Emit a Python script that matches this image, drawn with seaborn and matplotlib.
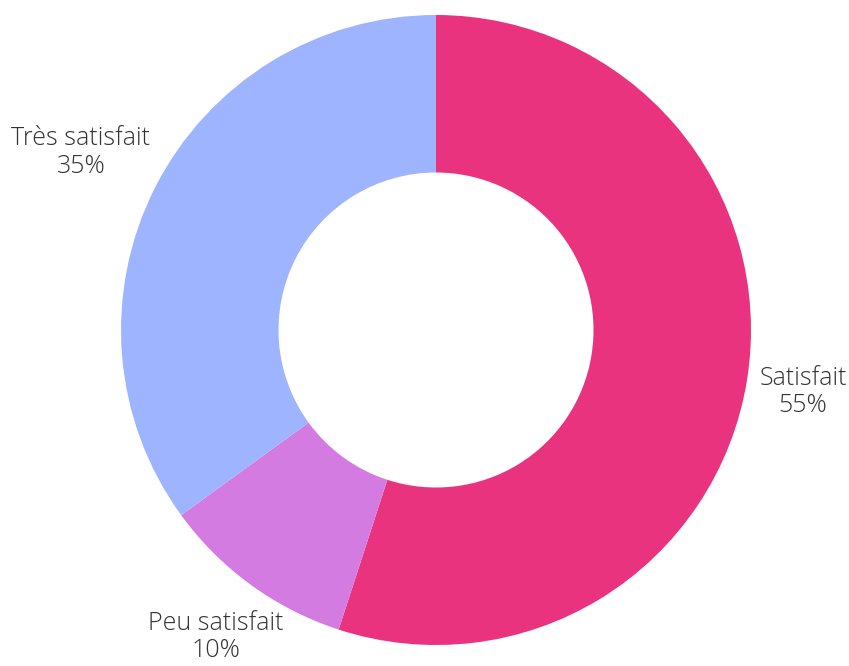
import matplotlib
matplotlib.use("Agg")
import matplotlib.pyplot as plt
import seaborn as sns
import numpy as np

# données
categories = ["Satisfait", "Peu satisfait", "Très satisfait"]
values = [55, 10, 35]
colors = ["#EA337F", "#D37BE0", "#9EB4FF"]

sns.set_theme(style="white")
plt.rcParams['font.family'] = ['Open Sans', 'DejaVu Sans']

fig = plt.figure(figsize=(8.49, 6.66), dpi=100)
ax = fig.add_axes([0, 0, 1, 1])

labels = [f"{c}\n{v}%" for c, v in zip(categories, values)]
wedges, texts = ax.pie(values, labels=labels, colors=colors, startangle=90,
                       counterclock=False, radius=1.0, labeldistance=1.2,
                       wedgeprops=dict(width=0.5, linewidth=0))

# distance des étiquettes par part (à la manière de highcharts)
label_dist = [1.18, 1.19, 1.265]
for w, t, d in zip(wedges, texts, label_dist):
    ang = np.deg2rad((w.theta1 + w.theta2) / 2)
    t.set_position((d * np.cos(ang), d * np.sin(ang) - 0.012))
    t.set_ha("center")
    t.set_va("center")
    t.set_fontsize(18)
    t.set_fontweight("light")
    t.set_color("#333333")
    t.set_linespacing(1.15)

# centre du donut à (436, 330) px, rayon 315 px
r = 315.0
ax.set_xlim(-436 / r, (849 - 436) / r)
ax.set_ylim(-(666 - 330) / r, 330 / r)
ax.set_aspect("auto")
ax.axis("off")

fig.savefig("out.png", dpi=100)
